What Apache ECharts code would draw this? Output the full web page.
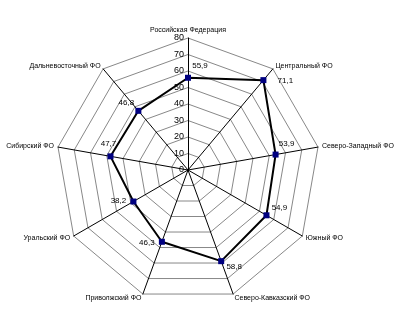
<!DOCTYPE html>
<html><head><meta charset="utf-8">
<script src="https://cdn.jsdelivr.net/npm/echarts@6/dist/echarts.min.js"></script>
<style>html,body{margin:0;padding:0;background:#fff}#c{width:395px;height:329px}</style>
</head><body><div id="c"></div>
<script>
// Categories in clockwise order, starting from the top
const categories = ['Российская Федерация','Центральный ФО','Северо-Западный ФО','Южный ФО','Северо-Кавказский ФО','Приволжский ФО','Уральский ФО','Сибирский ФО','Дальневосточный ФО'];
const values = [55.9, 71.1, 53.9, 54.9, 58.8, 46.3, 38.2, 47.7, 46.8];
const axisMax = 80;
const axisInterval = 10;

// label offsets (layout only), clockwise order
const labelOffsets = [[12,-12],[22,1],[11,-11],[13,-7],[13,6],[-15,1],[-15,-1],[-2,-13],[-12,-8]];

// ECharts radar runs counterclockwise; reorder to clockwise
const order = categories.map((_, i) => (categories.length - i) % categories.length);
const ind = order.map((k, j) => {
  const o = { name: categories[k], max: axisMax, min: 0 };
  if (j === 0) o.axisLabel = { show: true };
  return o;
});
const vals = order.map(k => values[k]);
const fmt = v => String(v).replace('.', ',');

const series = [{
  type: 'radar',
  silent: true,
  symbol: 'rect',
  symbolSize: 6,
  itemStyle: { color: '#000080' },
  lineStyle: { color: '#000', width: 2 },
  data: [{ value: vals }],
  z: 3
}];
order.forEach((k, j) => {
  series.push({
    type: 'radar', silent: true, symbol: 'circle', symbolSize: 1,
    itemStyle: { color: 'rgba(0,0,0,0)' },
    lineStyle: { width: 0, opacity: 0 },
    data: [{ value: vals, label: {
      show: true, position: 'inside', offset: labelOffsets[k],
      color: '#000', fontSize: 8, fontFamily: 'Liberation Sans, Arial',
      formatter: p => (p.dimensionIndex === j ? fmt(p.value) : '')
    }}],
    z: 4
  });
});

const chart = echarts.init(document.getElementById('c'), null, { renderer: 'canvas' });
chart.setOption({
  backgroundColor: '#fff',
  animation: false,
  radar: {
    center: [188, 170],
    radius: 132,
    startAngle: 90,
    shape: 'polygon',
    splitNumber: axisMax / axisInterval,
    indicator: ind,
    axisName: { color: '#000', fontSize: 7, fontFamily: 'Liberation Sans, Arial' },
    nameGap: 4,
    axisLine: { lineStyle: { color: '#000', width: 1 } },
    splitLine: { lineStyle: { color: '#888', width: 1 } },
    splitArea: { show: false },
    axisTick: { show: false },
    axisLabel: { show: false, color: '#000', fontSize: 9, fontFamily: 'Liberation Sans, Arial', margin: 4 }
  },
  series: series
});
</script></body></html>
